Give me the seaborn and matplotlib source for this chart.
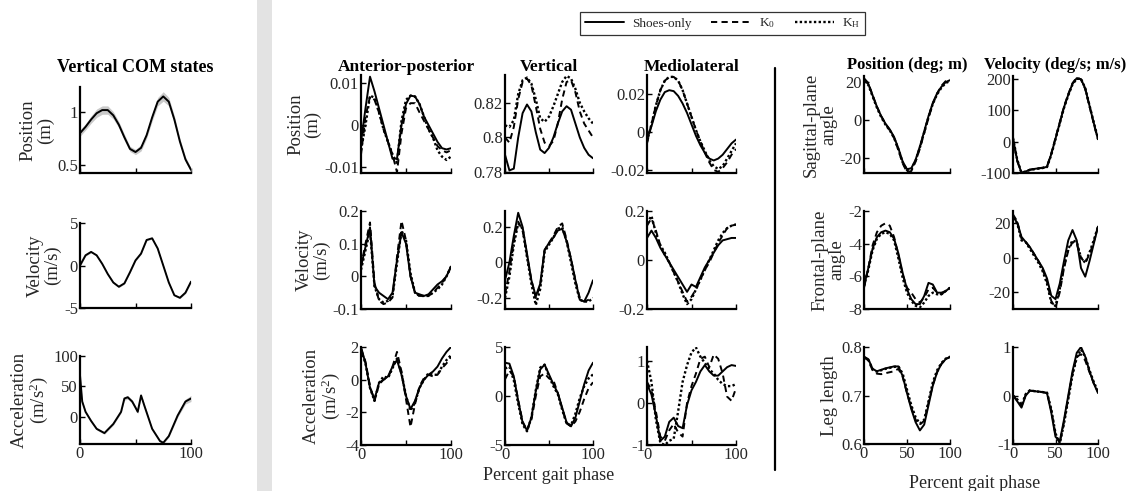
import matplotlib
matplotlib.use("Agg")
import matplotlib.pyplot as plt
import seaborn as sns
from matplotlib.lines import Line2D
from matplotlib.patches import Rectangle
from matplotlib.ticker import FuncFormatter

# ---------------- data ----------------
phase = [0, 5, 10, 15, 20, 25, 30, 35, 40, 45, 50, 55, 60, 65, 70, 75, 80, 85, 90, 95, 100]

# Vertical COM states (mean and SD)
com_pos = [0.80, 0.86, 0.93, 0.99, 1.02, 1.02, 0.97, 0.88, 0.76, 0.65, 0.62, 0.66, 0.78, 0.95, 1.10, 1.15, 1.10, 0.93, 0.72, 0.55, 0.45]
com_pos_sd = [0.03, 0.03, 0.035, 0.04, 0.04, 0.04, 0.035, 0.03, 0.03, 0.025, 0.025, 0.03, 0.03, 0.035, 0.04, 0.045, 0.04, 0.035, 0.03, 0.025, 0.02]
com_vel = [0.0, 1.2, 1.6, 1.2, 0.2, -1.0, -2.0, -2.5, -2.1, -0.8, 0.6, 1.4, 3.0, 3.2, 2.0, 0.0, -2.0, -3.5, -3.8, -3.2, -1.9]
com_vel_sd = [0.15, 0.1, 0.1, 0.1, 0.1, 0.1, 0.1, 0.1, 0.1, 0.1, 0.1, 0.1, 0.1, 0.1, 0.1, 0.1, 0.1, 0.1, 0.1, 0.12, 0.15]
com_acc_phase = [0, 2, 5, 10, 15, 22, 30, 37, 40, 43, 47, 50, 52, 55, 58, 65, 72, 75, 80, 88, 95, 100]
com_acc = [68, 25, 8, -7, -20, -27, -12, 8, 30, 32, 25, 15, 8, 35, 18, -20, -40, -43, -32, 2, 25, 30]
com_acc_sd = [3, 2, 2, 2, 2, 2, 2, 2, 3, 3, 3, 3, 3, 3, 3, 2, 2, 2, 2, 3, 4, 5]

# COM position (m)
ap_pos_shoes = [-0.004, 0.004, 0.0115, 0.008, 0.004, 0.0, -0.004, -0.008, -0.008, 0.0, 0.005, 0.007, 0.0068, 0.005, 0.002, 0.0, -0.002, -0.004, -0.0055, -0.0058, -0.0055]
ap_pos_k0 = [-0.007, 0.002, 0.0068, 0.006, 0.003, -0.001, -0.004, -0.007, -0.0112, -0.002, 0.004, 0.0052, 0.0052, 0.003, 0.001, -0.001, -0.003, -0.005, -0.006, -0.0065, -0.006]
ap_pos_kh = [-0.006, 0.0, 0.007, 0.0065, 0.003, -0.001, -0.004, -0.007, -0.009, 0.001, 0.006, 0.007, 0.0068, 0.005, 0.002, -0.001, -0.003, -0.006, -0.0075, -0.0083, -0.0075]
v_pos_shoes = [0.790, 0.781, 0.782, 0.800, 0.814, 0.819, 0.815, 0.803, 0.793, 0.791, 0.794, 0.800, 0.808, 0.815, 0.818, 0.816, 0.808, 0.800, 0.794, 0.790, 0.788]
v_pos_k0 = [0.800, 0.797, 0.806, 0.822, 0.832, 0.834, 0.830, 0.818, 0.805, 0.797, 0.795, 0.798, 0.808, 0.822, 0.832, 0.833, 0.826, 0.815, 0.808, 0.804, 0.800]
v_pos_kh = [0.807, 0.806, 0.810, 0.825, 0.833, 0.8345, 0.831, 0.822, 0.811, 0.809, 0.812, 0.818, 0.825, 0.832, 0.8355, 0.834, 0.828, 0.820, 0.815, 0.811, 0.808]
ml_pos_shoes = [-0.004, 0.003, 0.011, 0.017, 0.021, 0.022, 0.0215, 0.019, 0.015, 0.010, 0.004, -0.002, -0.007, -0.011, -0.014, -0.015, -0.014, -0.012, -0.009, -0.006, -0.004]
ml_pos_k0 = [-0.006, 0.004, 0.014, 0.022, 0.027, 0.029, 0.029, 0.027, 0.022, 0.015, 0.008, 0.001, -0.005, -0.011, -0.016, -0.020, -0.021, -0.019, -0.016, -0.012, -0.009]
ml_pos_kh = [-0.005, 0.004, 0.014, 0.022, 0.027, 0.029, 0.029, 0.027, 0.022, 0.015, 0.008, 0.001, -0.005, -0.010, -0.015, -0.018, -0.0195, -0.018, -0.014, -0.010, -0.006]

# COM velocity (m/s)
ap_vel_shoes = [0.03, 0.09, 0.15, -0.03, -0.05, -0.06, -0.07, -0.05, 0.05, 0.135, 0.10, 0.0, -0.05, -0.055, -0.06, -0.055, -0.04, -0.025, -0.015, 0.0, 0.03]
ap_vel_k0 = [0.03, 0.10, 0.165, -0.02, -0.075, -0.085, -0.08, -0.065, 0.06, 0.17, 0.11, 0.0, -0.05, -0.06, -0.06, -0.06, -0.05, -0.035, -0.02, 0.0, 0.03]
ap_vel_kh = [0.02, 0.08, 0.14, -0.03, -0.07, -0.08, -0.075, -0.06, 0.04, 0.14, 0.11, 0.01, -0.05, -0.06, -0.06, -0.06, -0.05, -0.04, -0.025, 0.0, 0.03]
v_vel_shoes = [-0.10, 0.0, 0.15, 0.28, 0.20, 0.05, -0.10, -0.19, -0.12, 0.07, 0.11, 0.14, 0.18, 0.19, 0.12, 0.02, -0.10, -0.21, -0.22, -0.17, -0.10]
v_vel_k0 = [-0.18, -0.05, 0.12, 0.23, 0.18, 0.04, -0.10, -0.20, -0.13, 0.07, 0.11, 0.15, 0.20, 0.22, 0.13, 0.02, -0.10, -0.20, -0.22, -0.21, -0.20]
v_vel_kh = [-0.20, -0.08, 0.10, 0.22, 0.19, 0.03, -0.12, -0.24, -0.15, 0.06, 0.10, 0.14, 0.19, 0.20, 0.12, 0.0, -0.12, -0.21, -0.22, -0.22, -0.20]
ml_vel_shoes = [0.09, 0.12, 0.09, 0.05, 0.02, -0.01, -0.04, -0.07, -0.10, -0.13, -0.10, -0.11, -0.07, -0.03, 0.0, 0.03, 0.06, 0.08, 0.085, 0.09, 0.09]
ml_vel_k0 = [0.14, 0.17, 0.12, 0.06, 0.02, -0.01, -0.05, -0.09, -0.13, -0.17, -0.15, -0.12, -0.08, -0.04, -0.01, 0.03, 0.07, 0.10, 0.13, 0.14, 0.145]
ml_vel_kh = [0.15, 0.18, 0.11, 0.06, 0.03, -0.01, -0.05, -0.09, -0.14, -0.18, -0.16, -0.12, -0.08, -0.04, 0.0, 0.04, 0.08, 0.11, 0.13, 0.14, 0.145]

# COM acceleration (m/s^2)
ap_acc_shoes = [2.0, 1.0, -0.5, -1.2, -0.2, 0.0, 0.2, 0.8, 1.2, 0.3, -1.0, -1.8, -1.3, -0.5, 0.0, 0.3, 0.5, 0.8, 1.3, 1.7, 2.0]
ap_acc_k0 = [1.9, 1.1, -0.4, -1.3, -0.3, 0.0, 0.1, 0.8, 1.7, 0.5, -1.2, -2.9, -1.5, -0.4, 0.1, 0.3, 0.2, 0.3, 0.7, 1.0, 1.4]
ap_acc_kh = [1.8, 1.0, -0.5, -1.3, -0.2, 0.2, 0.1, 0.7, 1.3, 0.4, -1.0, -1.9, -1.4, -0.5, 0.0, 0.4, 0.3, 0.3, 0.8, 1.2, 1.5]
v_acc_shoes = [3.4, 3.3, 2.0, -0.5, -2.7, -3.5, -2.2, 0.5, 2.7, 3.2, 2.2, 1.2, 0.3, -1.2, -2.7, -3.1, -2.2, -0.5, 1.2, 2.6, 3.4]
v_acc_k0 = [1.7, 2.6, 2.0, -0.4, -2.6, -3.5, -2.4, 0.0, 2.0, 2.3, 1.8, 1.6, 0.3, -1.3, -2.8, -3.1, -2.6, -1.6, -0.3, 0.8, 1.4]
v_acc_kh = [2.8, 3.0, 1.6, -0.8, -2.9, -3.6, -2.2, 0.6, 2.9, 3.2, 2.0, 1.0, 0.2, -1.4, -2.8, -3.0, -1.8, -0.2, 1.0, 1.8, 2.2]
ml_acc_shoes = [0.45, 0.2, -0.3, -0.9, -0.8, -0.45, -0.35, -0.55, -0.6, -0.05, 0.3, 0.5, 0.75, 0.9, 0.75, 0.65, 0.65, 0.75, 0.85, 0.9, 0.88]
ml_acc_k0 = [0.5, 0.3, -0.2, -0.8, -0.9, -0.65, -0.5, -0.7, -0.8, 0.0, 0.4, 0.7, 1.05, 1.1, 0.85, 1.15, 1.05, 0.7, 0.15, 0.05, 0.35]
ml_acc_kh = [1.0, 0.5, -0.4, -0.95, -1.0, -0.9, -0.85, -0.2, 0.5, 0.9, 1.2, 1.32, 1.1, 0.95, 0.8, 0.7, 0.55, 0.45, 0.4, 0.4, 0.45]

# Leg states
sag_pos_shoes = [21, 19, 13, 7, 2, -2, -5, -9, -15, -22, -26, -25.5, -21, -14, -6, 2, 9, 14, 17.5, 20, 21]
sag_pos_k0 = [22, 19.5, 13, 7, 2, -2, -5.5, -9.5, -16, -23, -27.5, -27, -22, -15, -7, 1, 8.5, 14, 18, 20.5, 21.5]
sag_pos_kh = [20.5, 18.5, 12.5, 6.5, 1.5, -2.5, -5.5, -9.5, -15.5, -22.5, -26.5, -26, -21.5, -14.5, -6.5, 1.5, 8.5, 13.5, 17, 19.5, 20.5]
sag_vel_shoes = [10, -60, -100, -95, -90, -87, -85, -84, -80, -40, 10, 60, 110, 150, 185, 203, 200, 170, 115, 60, 8]
sag_vel_k0 = [8, -62, -100, -94, -89, -87, -85, -83, -79, -38, 12, 62, 112, 152, 187, 205, 199, 168, 113, 58, 6]
sag_vel_kh = [12, -58, -99, -95, -90, -88, -86, -84, -81, -42, 8, 58, 108, 148, 183, 201, 201, 171, 116, 62, 10]
fr_pos_shoes = [-6.6, -5.5, -4.3, -3.6, -3.3, -3.2, -3.3, -3.7, -4.6, -5.8, -6.8, -7.4, -7.7, -7.7, -7.2, -6.4, -6.5, -7.0, -7.0, -6.9, -6.7]
fr_pos_k0 = [-6.7, -5.5, -4.1, -3.3, -2.9, -2.75, -2.9, -3.6, -4.7, -5.9, -6.7, -7.0, -7.4, -7.6, -7.3, -6.8, -6.7, -7.0, -7.1, -6.9, -6.7]
fr_pos_kh = [-6.6, -5.6, -4.4, -3.7, -3.4, -3.3, -3.4, -3.8, -4.9, -6.1, -7.0, -7.5, -7.8, -7.9, -7.6, -7.2, -7.0, -7.1, -7.1, -6.9, -6.7]
fr_vel_shoes = [24, 20, 12, 9, 6, 2, -2, -6, -12, -22, -24, -15, -2, 10, 16, 10, -6, -11, -2, 8, 18]
fr_vel_k0 = [25, 21, 11, 9, 6, 2, -2, -7, -14, -25, -29, -20, -6, 4, 9, 8, 0, -3, 2, 9, 18]
fr_vel_kh = [23, 20, 10, 9, 5, 1, -3, -8, -15, -26, -28, -18, -5, 5, 10, 9, 0, -3, 3, 10, 18]
leg_pos_shoes = [0.780, 0.775, 0.755, 0.750, 0.753, 0.756, 0.758, 0.760, 0.760, 0.740, 0.705, 0.672, 0.645, 0.628, 0.640, 0.680, 0.720, 0.748, 0.765, 0.775, 0.780]
leg_pos_k0 = [0.780, 0.772, 0.752, 0.745, 0.744, 0.746, 0.748, 0.750, 0.755, 0.738, 0.705, 0.675, 0.650, 0.640, 0.648, 0.685, 0.722, 0.748, 0.765, 0.775, 0.779]
leg_pos_kh = [0.778, 0.774, 0.754, 0.749, 0.752, 0.755, 0.757, 0.759, 0.760, 0.745, 0.712, 0.680, 0.655, 0.642, 0.650, 0.688, 0.727, 0.752, 0.767, 0.776, 0.780]
leg_vel_shoes = [0.0, -0.12, -0.25, 0.0, 0.10, 0.09, 0.08, 0.07, 0.05, -0.35, -0.85, -0.95, -0.50, 0.0, 0.50, 0.88, 1.0, 0.80, 0.50, 0.25, 0.05]
leg_vel_k0 = [0.0, -0.10, -0.22, 0.02, 0.10, 0.09, 0.08, 0.07, 0.05, -0.30, -0.80, -0.98, -0.55, -0.05, 0.45, 0.80, 0.85, 0.72, 0.48, 0.25, 0.08]
leg_vel_kh = [0.0, -0.08, -0.20, 0.03, 0.11, 0.09, 0.08, 0.07, 0.06, -0.28, -0.78, -1.0, -0.58, -0.08, 0.42, 0.78, 0.95, 0.80, 0.52, 0.28, 0.08]

condition_labels = ["Shoes-only", r"K$_{\rm 0}$", r"K$_{\rm H}$"]

# ---------------- style ----------------
sns.set_style("ticks")
plt.rcParams["font.family"] = ["Liberation Serif", "DejaVu Serif"]
plt.rcParams["mathtext.fontset"] = "custom"
plt.rcParams["mathtext.rm"] = "Liberation Serif"
plt.rcParams["mathtext.it"] = "Liberation Serif:italic"
plt.rcParams["axes.unicode_minus"] = False
plt.rcParams["xtick.direction"] = "in"
plt.rcParams["ytick.direction"] = "in"

W, H = 1133, 491
fig = plt.figure(figsize=(W / 100, H / 100), dpi=100)
TXT = "#262626"
TICK_FS = 12
YLAB_FS = 13.5
TITLE_FS = 12.5


def add_ax(x0, y0, x1, y1):
    return fig.add_axes([x0 / W, 1 - y1 / H, (x1 - x0) / W, (y1 - y0) / H])


fmt = FuncFormatter(lambda v, p: "%g" % round(v, 6))


def style(ax, ylim, yticks, xlabels=None):
    ax.set_xlim(0, 100)
    ax.set_ylim(*ylim)
    ax.set_yticks(yticks)
    ax.yaxis.set_major_formatter(fmt)
    ax.set_xticks([0, 50, 100])
    if xlabels is None:
        ax.set_xticklabels([])
    else:
        ax.set_xticklabels(xlabels)
    for s in ["top", "right"]:
        ax.spines[s].set_visible(False)
    for s in ["left", "bottom"]:
        ax.spines[s].set_linewidth(1.6)
        ax.spines[s].set_color("black")
    ax.tick_params(axis="both", length=3.5, width=1.0, labelsize=TICK_FS, colors="black",
                   labelcolor=TXT, pad=1.5)
    ax.set_xlabel("")


def ylab(ax, text):
    ax.set_ylabel(text, fontsize=YLAB_FS, color=TXT, labelpad=2, linespacing=1.0)


def three(ax, s, k0, kh):
    sns.lineplot(x=phase, y=s, ax=ax, color="black", lw=1.4, linestyle="-", label=condition_labels[0])
    sns.lineplot(x=phase, y=k0, ax=ax, color="black", lw=1.4, linestyle=(0, (3.2, 2.2)), label=condition_labels[1])
    sns.lineplot(x=phase, y=kh, ax=ax, color="black", lw=1.7, linestyle=(0, (1, 1)), label=condition_labels[2])
    if ax.get_legend() is not None:
        ax.get_legend().remove()


def band(ax, x, m, sd):
    lo = [a - b for a, b in zip(m, sd)]
    hi = [a + b for a, b in zip(m, sd)]
    ax.fill_between(x, lo, hi, color="#c9c9c9", lw=0)
    sns.lineplot(x=x, y=m, ax=ax, color="black", lw=1.4)


# ---------------- background decorations ----------------
fig.add_artist(Rectangle((257 / W, 0), 15 / W, 1, transform=fig.transFigure, color="#e3e3e3", lw=0, zorder=0))
fig.add_artist(Line2D([775 / W, 775 / W], [1 - 68 / H, 1 - 470 / H], transform=fig.transFigure, color="black", lw=1.6))

# ---------------- left: vertical COM states ----------------
lx = (80, 191)
rows_l = [(87, 173), (223, 308), (356, 444)]
a = add_ax(lx[0], rows_l[0][0], lx[1], rows_l[0][1])
band(a, phase, com_pos, com_pos_sd)
style(a, (0.42, 1.24), [0.5, 1])
ylab(a, "Position\n(m)")
a.set_title("Vertical COM states", fontsize=13, fontweight="bold", color="black", pad=11)

a = add_ax(lx[0], rows_l[1][0], lx[1], rows_l[1][1])
band(a, phase, com_vel, com_vel_sd)
style(a, (-5, 5), [-5, 0, 5])
ylab(a, "Velocity\n(m/s)")

a = add_ax(lx[0], rows_l[2][0], lx[1], rows_l[2][1])
band(a, com_acc_phase, com_acc, com_acc_sd)
style(a, (-45, 100), [0, 50, 100], ["0", "", "100"])
ylab(a, "Acceleration\n(m/s$^{2}$)")

# ---------------- middle: COM states in 3 directions ----------------
cols_m = [(361, 451), (505, 593), (647, 736)]
rows_m = [(75, 173), (211, 309), (347, 445)]
mid = [
    [(ap_pos_shoes, ap_pos_k0, ap_pos_kh, (-0.0114, 0.0119), [-0.01, 0, 0.01]),
     (v_pos_shoes, v_pos_k0, v_pos_kh, (0.7795, 0.836), [0.78, 0.8, 0.82]),
     (ml_pos_shoes, ml_pos_k0, ml_pos_kh, (-0.0216, 0.030), [-0.02, 0, 0.02])],
    [(ap_vel_shoes, ap_vel_k0, ap_vel_kh, (-0.1, 0.2), [-0.1, 0, 0.1, 0.2]),
     (v_vel_shoes, v_vel_k0, v_vel_kh, (-0.262, 0.29), [-0.2, 0, 0.2]),
     (ml_vel_shoes, ml_vel_k0, ml_vel_kh, (-0.2, 0.2), [-0.2, 0, 0.2])],
    [(ap_acc_shoes, ap_acc_k0, ap_acc_kh, (-4, 2), [-4, -2, 0, 2]),
     (v_acc_shoes, v_acc_k0, v_acc_kh, (-5, 5), [-5, 0, 5]),
     (ml_acc_shoes, ml_acc_k0, ml_acc_kh, (-1.0, 1.33), [-1, 0, 1])],
]
mid_titles = ["Anterior-posterior", "Vertical", "Mediolateral"]
mid_ylabels = ["Position\n(m)", "Velocity\n(m/s)", "Acceleration\n(m/s$^{2}$)"]
legend_ax = None
for r in range(3):
    for c in range(3):
        s, k0, kh, yl, yt = mid[r][c]
        a = add_ax(cols_m[c][0], rows_m[r][0], cols_m[c][1], rows_m[r][1])
        three(a, s, k0, kh)
        style(a, yl, yt, ["0", "", "100"] if r == 2 else None)
        if legend_ax is None:
            legend_ax = a
        if r == 0:
            a.set_title(mid_titles[c], fontsize=TITLE_FS, fontweight="bold", color="black", pad=2)
        if c == 0:
            ylab(a, mid_ylabels[r])

# ---------------- right: leg states ----------------
cols_r = [(864, 950), (1013, 1098)]
rows_r = [(76, 173), (211, 309), (347, 444)]
right = [
    [(sag_pos_shoes, sag_pos_k0, sag_pos_kh, (-28, 23.2), [-20, 0, 20]),
     (sag_vel_shoes, sag_vel_k0, sag_vel_kh, (-100, 210), [-100, 0, 100, 200])],
    [(fr_pos_shoes, fr_pos_k0, fr_pos_kh, (-8, -2), [-8, -6, -4, -2]),
     (fr_vel_shoes, fr_vel_k0, fr_vel_kh, (-29.7, 27), [-20, 0, 20])],
    [(leg_pos_shoes, leg_pos_k0, leg_pos_kh, (0.6, 0.8), [0.6, 0.7, 0.8]),
     (leg_vel_shoes, leg_vel_k0, leg_vel_kh, (-1, 1), [-1, 0, 1])],
]
right_titles = ["Position (deg; m)", "Velocity (deg/s; m/s)"]
right_ylabels = ["Sagittal-plane\nangle", "Frontal-plane\nangle", "Leg length"]
for r in range(3):
    for c in range(2):
        s, k0, kh, yl, yt = right[r][c]
        a = add_ax(cols_r[c][0], rows_r[r][0], cols_r[c][1], rows_r[r][1])
        three(a, s, k0, kh)
        style(a, yl, yt, ["0", "50", "100"] if r == 2 else None)
        if r == 0:
            a.set_title(right_titles[c], fontsize=12, fontweight="bold", color="black", pad=5)
        if c == 0:
            ylab(a, right_ylabels[r])

# ---------------- shared texts ----------------
fig.text(549 / W, 1 - 475 / H, "Percent gait phase", ha="center", va="center", fontsize=13, color=TXT)
fig.text(975 / W, 1 - 484 / H, "Percent gait phase", ha="center", va="center", fontsize=13, color=TXT)

handles = legend_ax.get_lines()[:3]
leg = fig.legend(handles, condition_labels, loc="center", ncol=3,
                 bbox_to_anchor=(722.5 / W, 1 - 23.5 / H), frameon=True, fancybox=False,
                 fontsize=9.5, handlelength=3.0, columnspacing=1.5, handletextpad=0.6,
                 borderpad=0.35, edgecolor="black")
leg.get_frame().set_linewidth(0.9)

fig.savefig("out.png", dpi=100, facecolor="white")
